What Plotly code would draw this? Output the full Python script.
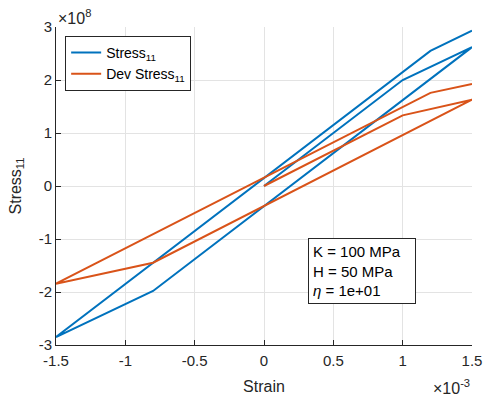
import plotly.graph_objects as go

# Data (strain in absolute units, stress in Pa)
strain = [0.0, 1.0e-3, 1.5e-3, -0.8e-3, -1.5e-3, 1.2e-3, 1.5e-3]
stress11 = [0.0, 2.0e8, 2.62e8, -1.98e8, -2.85e8, 2.55e8, 2.93e8]
dev_stress11 = [0.0, 1.333e8, 1.63e8, -1.447e8, -1.843e8, 1.757e8, 1.925e8]

x_ticks = [-1.5e-3, -1.0e-3, -0.5e-3, 0.0, 0.5e-3, 1.0e-3, 1.5e-3]
x_ticktext = ["-1.5", "-1", "-0.5", "0", "0.5", "1", "1.5"]
y_ticks = [-3e8, -2e8, -1e8, 0, 1e8, 2e8, 3e8]
y_ticktext = ["-3", "-2", "-1", "0", "1", "2", "3"]

BLUE = "#0072BD"
ORANGE = "#D95319"
AXC = "#262626"
FONT = "Liberation Sans, Arial, sans-serif"

fig = go.Figure()
fig.add_trace(go.Scatter(x=strain, y=stress11, mode="lines",
                         line=dict(color=BLUE, width=2),
                         name="Stress<sub>11</sub>"))
fig.add_trace(go.Scatter(x=strain, y=dev_stress11, mode="lines",
                         line=dict(color=ORANGE, width=2),
                         name="Dev Stress<sub>11</sub>"))

axis_common = dict(
    showgrid=True, gridcolor="#e3e3e3", gridwidth=1,
    zeroline=False, showline=True, linecolor=AXC, linewidth=1,
    ticks="inside", ticklen=5, tickcolor=AXC,
    tickfont=dict(family=FONT, size=15, color=AXC),
    mirror=False, automargin=False,
)

fig.update_layout(
    width=484, height=400,
    margin=dict(l=56, r=12, t=27, b=55),
    paper_bgcolor="white", plot_bgcolor="white",
    font=dict(family=FONT, color=AXC),
    xaxis=dict(range=[-1.5e-3, 1.5e-3], tickvals=x_ticks, ticktext=x_ticktext,
               ticklabelstandoff=2,
               title=dict(text="Strain", font=dict(family=FONT, size=16, color=AXC), standoff=12),
               **axis_common),
    yaxis=dict(range=[-3e8, 3e8], tickvals=y_ticks, ticktext=y_ticktext,
               title=dict(text="Stress<sub>11</sub>", font=dict(family=FONT, size=16, color=AXC), standoff=13),
               **axis_common),
    legend=dict(x=0.022, y=0.972, xanchor="left", yanchor="top",
                bgcolor="white", bordercolor=AXC, borderwidth=1,
                font=dict(family=FONT, size=14, color="black"),
                tracegroupgap=0, itemwidth=30),
    showlegend=True,
)

fig.add_annotation(xref="paper", yref="paper", x=0.0, y=1.0, xanchor="left", yanchor="bottom",
                   text="×10<sup>8</sup>", showarrow=False,
                   font=dict(family=FONT, size=16, color=AXC), yshift=-2)
fig.add_annotation(xref="paper", yref="paper", x=1.0, y=0, xanchor="right", yanchor="top",
                   text="×10<sup>-3</sup>", showarrow=False,
                   font=dict(family=FONT, size=16, color=AXC), yshift=-30)
fig.add_annotation(xref="paper", yref="paper", x=0.606, y=0.3365, xanchor="left", yanchor="top",
                   text="K = 100 MPa<br>H = 50 MPa<br><i>η</i> = 1e+01", align="left",
                   width=98, showarrow=False, bgcolor="white", bordercolor=AXC,
                   borderwidth=1, borderpad=4,
                   font=dict(family=FONT, size=15, color="black"))

fig.write_html("out.html", config={"displayModeBar": False},
               post_script="document.body.style.margin='0px';")
